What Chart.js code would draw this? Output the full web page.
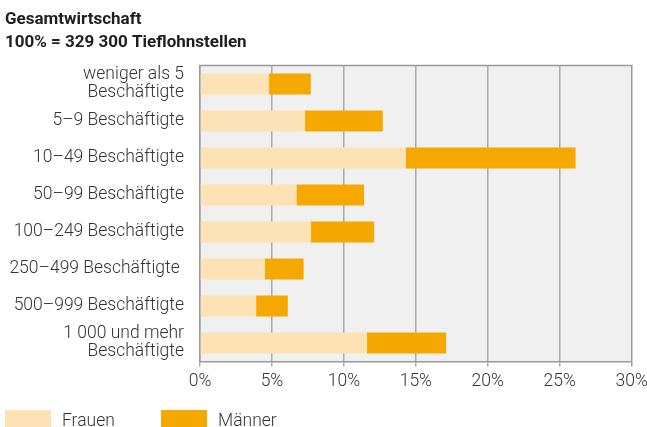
<!DOCTYPE html>
<html><head><meta charset="utf-8">
<script src="https://cdn.jsdelivr.net/npm/chart.js@4/dist/chart.umd.min.js"></script>
<style>html,body{margin:0;padding:0;background:#fff}#wrap{width:647px;height:427px;position:relative}</style>
</head><body><div id="wrap"><canvas id="c" width="647" height="427"></canvas></div>
<script>
const categories = [["weniger als 5","Beschäftigte"],"5–9 Beschäftigte","10–49 Beschäftigte","50–99 Beschäftigte","100–249 Beschäftigte","250–499 Beschäftigte ","500–999 Beschäftigte",["1 000 und mehr","Beschäftigte"]];
const frauen = [4.8, 7.3, 14.3, 6.7, 7.7, 4.5, 3.9, 11.6];
const maenner = [2.9, 5.4, 11.8, 4.7, 4.4, 2.7, 2.2, 5.5];
const xTicks = [0, 5, 10, 15, 20, 25, 30];
const titleLines = ["Gesamtwirtschaft", "100% = 329 300 Tieflohnstellen"];
const seriesNames = ["Frauen", "Männer"];
const seriesColors = ["#fde2b5", "#f5a800"];

const LABEL_FONT = {family: "Roboto", size: 17.5, weight: "300", lineHeight: 1.02};
const TEXT = "#333333";

const bgPlugin = {
  id: "bg",
  beforeDraw(chart) {
    const {ctx, chartArea: a} = chart;
    ctx.save();
    ctx.fillStyle = "#eff0ef";
    ctx.fillRect(a.left, a.top, a.right - a.left, a.bottom - a.top);
    ctx.restore();
  },
  afterDraw(chart) {
    const {ctx, chartArea: a} = chart;
    ctx.save();
    ctx.strokeStyle = "#9a9a9a";
    ctx.lineWidth = 1.5;
    ctx.beginPath();
    ctx.moveTo(a.left - 0.75, a.top);
    ctx.lineTo(a.right + 0.75, a.top);
    ctx.stroke();
    // title
    ctx.fillStyle = "#1e1e1e";
    ctx.font = "bold 17px Roboto";
    ctx.textBaseline = "alphabetic";
    ctx.textAlign = "left";
    ctx.fillText(titleLines[0], 5, 23.5);
    ctx.fillText(titleLines[1], 5, 47);
    // legend
    const boxX = [5, 161];
    const textX = [62, 218];
    ctx.font = "300 17.5px Roboto";
    for (let i = 0; i < seriesNames.length; i++) {
      ctx.fillStyle = seriesColors[i];
      ctx.fillRect(boxX[i], 410, 46, 20);
      ctx.fillStyle = TEXT;
      ctx.fillText(seriesNames[i], textX[i], 426);
    }
    ctx.restore();
  }
};

new Chart(document.getElementById("c"), {
  type: "bar",
  data: {
    labels: categories,
    datasets: [
      {label: seriesNames[0], data: frauen, backgroundColor: seriesColors[0], borderWidth: 0},
      {label: seriesNames[1], data: maenner, backgroundColor: seriesColors[1], borderWidth: 0}
    ]
  },
  options: {
    indexAxis: "y",
    responsive: false,
    animation: false,
    devicePixelRatio: 1,
    layout: {padding: {top: 65.5, right: 15.3, bottom: 0, left: 0}},
    datasets: {bar: {categoryPercentage: 1, barPercentage: 0.57}},
    plugins: {legend: {display: false}, title: {display: false}, tooltip: {enabled: false}},
    scales: {
      x: {
        stacked: true, min: 0, max: 30,
        afterBuildTicks(s) { s.ticks = xTicks.map(v => ({value: v})); },
        afterFit(s) { s.height = 65.5; s.paddingLeft = 0; s.paddingRight = 0; },
        grid: {
          color: (c) => (c.tick && c.tick.value === 30) ? "#9a9a9a" : "#aaaaaa",
          lineWidth: 1.5, tickLength: 5, drawTicks: true
        },
        border: {display: true, color: "#9a9a9a", width: 1.5},
        ticks: {color: TEXT, font: LABEL_FONT, padding: 6, maxRotation: 0, callback: (v) => v + "%"}
      },
      y: {
        stacked: true,
        afterFit(s) { s.width = 200; s.paddingTop = 0; s.paddingBottom = 0; },
        grid: {display: false, drawTicks: false, tickLength: 0},
        border: {display: true, color: "#9a9a9a", width: 1.5},
        ticks: {color: TEXT, font: LABEL_FONT, padding: 16, autoSkip: false}
      }
    }
  },
  plugins: [bgPlugin]
});
</script>
</body></html>
